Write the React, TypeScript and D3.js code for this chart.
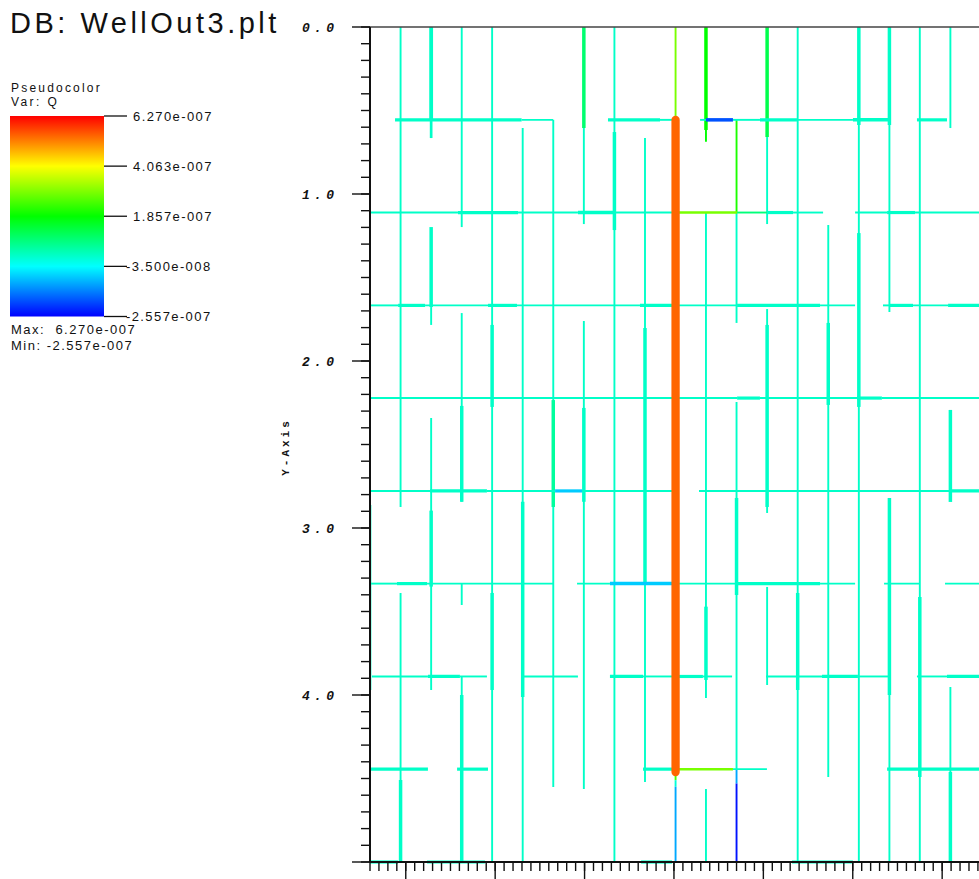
import React from 'react';
import * as d3 from 'd3';

// ---- colour table (VisIt "hot") ----
const qMin = -2.557e-7;
const qMax = 6.27e-7;
const legendValues = [6.27e-7, 4.063e-7, 1.857e-7, -3.5e-8, -2.557e-7];
const legendLabels = ['6.270e-007', '4.063e-007', '1.857e-007', '-3.500e-008', '-2.557e-007'];
const colorStops = ['#0000ff', '#00ffff', '#00ff00', '#ffff00', '#ff0000'];

// ---- axis ----
const yMajorTicks = [0, 1, 2, 3, 4, 5];
const yTickLabels = ['0.0', '1.0', '2.0', '3.0', '4.0'];

// ---- Q values (flow) ----
const QC = 1.3e-8; // background fractures
const QW = 5.39e-7; // well
const QYG = 2.9e-7;
const QG = 1.86e-7;
const QG2 = 2.1e-7;
const QG3 = 1.2e-7;
const QG4 = 9e-8;
const QG5 = 5e-8;
const QLB = -8e-8;
const QLB2 = -1.1e-7;
const QB = -1.85e-7;
const QB2 = -2.4e-7;

// vertical fractures: [x, y0, y1, aperture class, Q]
const vSegs: number[][] = [
  [0.300, 2.862, 3.970, 1.5, QC],
  [0.471, 0, 2.874, 1, QC], [0.471, 3.389, 5, 1, QC], [0.471, 4.509, 5, 2, QC],
  [0.642, 0, 0.555, 2.2, QC], [0.642, 0.555, 0.665, 1.5, QC], [0.642, 1.198, 1.677, 2, QC],
  [0.642, 1.677, 1.784, 1, QC], [0.642, 2.341, 3.970, 1, QC], [0.642, 2.896, 3.351, 2, QC],
  [0.813, 0, 1.198, 1, QC], [0.813, 1.713, 2.843, 1, QC], [0.813, 2.269, 2.843, 2, QC],
  [0.813, 3.332, 3.461, 1, QC], [0.813, 3.892, 5, 1, QC], [0.813, 4.0, 5, 2, QC],
  [0.983, 0, 5, 1, QC], [0.983, 1.784, 2.275, 2, QC], [0.983, 3.389, 3.970, 2, QC],
  [1.154, 0.605, 5, 1, QC], [1.154, 2.843, 4.012, 2, QC],
  [1.325, 0.556, 4.551, 1, QC], [1.325, 2.234, 2.874, 2, QG5],
  [1.496, 0, 0.605, 2, QG4], [1.496, 0.605, 1.180, 1, QC], [1.496, 1.760, 4.563, 1, QC], [1.496, 2.281, 2.843, 2, QC],
  [1.667, 0, 5, 1, QC], [1.667, 0.629, 1.216, 2, QC],
  [1.838, 0.665, 4.521, 1, QC], [1.838, 1.802, 3.332, 2, QC],
  [2.009, 0, 0.557, 1, QYG], [2.009, 4.461, 4.51, 1, 2.5e-7], [2.009, 4.51, 4.55, 1, 0], [2.009, 4.55, 5, 1, QLB2],
  [2.179, 0, 0.617, 2, QG], [2.179, 0.617, 0.687, 1, QG], [2.179, 1.111, 4.018, 1, QC],
  [2.179, 3.471, 3.910, 2, QC], [2.179, 4.563, 5, 1, QC],
  [2.350, 0.556, 1.111, 1, QG2], [2.350, 1.111, 1.772, 1, QC], [2.350, 2.246, 4.449, 1, QC],
  [2.350, 2.820, 3.401, 2, QC], [2.350, 4.449, 4.53, 1, QLB2], [2.350, 4.53, 5, 1, QB2],
  [2.521, 0, 0.659, 2, QG3], [2.521, 0.659, 1.180, 1, QC], [2.521, 1.689, 2.910, 1, QC],
  [2.521, 1.784, 2.874, 2, QC], [2.521, 3.353, 3.940, 1, QC],
  [2.692, 0, 5, 1, QC], [2.692, 3.389, 3.970, 2, QC],
  [2.863, 1.186, 4.491, 1, QC], [2.863, 1.772, 2.263, 2, QC],
  [3.034, 0, 5, 1, QC], [3.034, 0, 0.587, 2, QC], [3.034, 1.234, 2.275, 2, QC],
  [3.205, 0, 1.707, 1, QC], [3.205, 0, 0.587, 2, QC], [3.205, 2.820, 5, 1, QC], [3.205, 2.820, 4.0, 2, QC],
  [3.375, 0, 5, 1, QC], [3.375, 3.413, 4.491, 2, QC],
  [3.546, 0, 0.605, 1, QC], [3.546, 2.293, 2.844, 2, QC], [3.546, 3.952, 5, 1, QC], [3.546, 4.461, 5, 2, QC],
];

// the well
const wellSegs: number[][] = [[2.009, 0.557, 4.461, 5, QW]];

// horizontal fractures: [y, x0, x1, aperture class, Q]
const hSegs: number[][] = [
  // y = 0.556
  [0.556, 0.440, 1.148, 1.8, QC], [0.556, 1.148, 1.324, 1, QC], [0.556, 1.631, 1.922, 1.8, QC],
  [0.556, 1.922, 1.989, 1, QC], [0.556, 2.146, 2.179, 1, QC], [0.556, 2.179, 2.330, 2, QB],
  [0.556, 2.330, 2.481, 1, QC], [0.556, 2.481, 2.688, 1.8, QC], [0.556, 2.688, 3.001, 1, QC],
  [0.556, 3.001, 3.208, 2, QC], [0.556, 3.359, 3.527, 1.8, QC],
  // y = 1.111
  [1.111, 0.300, 0.792, 1, QC], [1.111, 0.792, 1.128, 1.8, QC], [1.111, 1.128, 1.463, 1, QC],
  [1.111, 1.463, 1.670, 2, QC], [1.111, 1.670, 1.989, 1, QC], [1.111, 2.028, 2.353, 1.4, QYG],
  [1.111, 2.353, 2.520, 1, 8e-8], [1.111, 2.520, 2.666, 1.8, QC], [1.111, 2.666, 2.834, 1, QC],
  [1.111, 3.013, 3.192, 1, QC], [1.111, 3.192, 3.348, 1.8, QC], [1.111, 3.348, 3.8, 1, QC],
  // y = 1.667
  [1.667, 0.300, 0.457, 1, QC], [1.667, 0.457, 0.608, 1.8, QC], [1.667, 0.608, 0.960, 1, QC],
  [1.667, 0.960, 1.122, 1.8, QC], [1.667, 1.122, 1.810, 1, QC], [1.667, 1.810, 1.989, 1.8, QC],
  [1.667, 2.028, 2.353, 1, QC], [1.667, 2.353, 2.817, 1.8, QC], [1.667, 2.817, 3.013, 1, QC],
  [1.667, 3.169, 3.208, 1, QC], [1.667, 3.208, 3.337, 1.8, QC], [1.667, 3.337, 3.533, 1, QC],
  [1.667, 3.533, 3.8, 1.8, QC],
  // y = 2.222
  [2.222, 0.300, 1.989, 1, QC], [2.222, 2.028, 2.353, 1, QC], [2.222, 2.353, 2.481, 1.8, QC],
  [2.222, 2.481, 3.024, 1, QC], [2.222, 3.024, 3.163, 1.8, QC], [2.222, 3.163, 3.8, 1, QC],
  // y = 2.778
  [2.778, 0.300, 0.636, 1, QC], [2.778, 0.636, 0.954, 1.8, QC], [2.778, 0.954, 1.335, 1, QC],
  [2.778, 1.335, 1.486, 1.8, QLB], [2.778, 1.486, 1.989, 1, QC], [2.778, 2.140, 3.544, 1, QC],
  [2.778, 3.544, 3.8, 1.8, QC],
  // y = 3.333
  [3.333, 0.300, 0.451, 1, QC], [3.333, 0.451, 0.619, 1.8, QC], [3.333, 0.619, 1.324, 1, QC],
  [3.333, 1.458, 1.642, 1, QC], [3.333, 1.642, 1.989, 2, QLB], [3.333, 2.028, 2.353, 1, QC],
  [3.333, 2.353, 2.817, 1.8, QC], [3.333, 2.817, 3.013, 1, QC], [3.333, 3.175, 3.376, 1, QC],
  [3.333, 3.516, 3.8, 1, QC],
  // y = 3.889
  [3.889, 0.311, 0.624, 1, QC], [3.889, 0.624, 0.803, 1.8, QC], [3.889, 0.803, 0.954, 1, QC],
  [3.889, 1.156, 1.463, 1, QC], [3.889, 1.642, 1.827, 1.8, QC], [3.889, 1.827, 1.989, 1, QC],
  [3.889, 2.028, 2.162, 1.8, QC], [3.889, 2.162, 2.325, 1, QC], [3.889, 2.515, 2.828, 1, QC],
  [3.889, 2.828, 3.029, 1.8, QC], [3.889, 3.029, 3.197, 1, QC], [3.889, 3.359, 3.527, 1, QC],
  [3.889, 3.527, 3.8, 1.8, QC],
  // y = 4.444
  [4.444, 0.300, 0.624, 1.8, QC], [4.444, 0.787, 0.960, 1.8, QC], [4.444, 1.827, 1.989, 1.8, QC],
  [4.444, 2.028, 2.330, 1.4, QYG], [4.444, 2.330, 2.520, 1, QC], [4.444, 3.192, 3.8, 1.8, QC],
  // y = 5.0
  [5.0, 0.300, 0.457, 1.8, QC], [5.0, 0.619, 0.943, 1.8, QC], [5.0, 1.816, 1.989, 1.8, QC],
  [5.0, 2.028, 2.330, 1, QC], [5.0, 2.660, 3.001, 1.8, QC], [5.0, 3.197, 3.8, 1, QC],
];

export default function App() {
  const W = 979;
  const H = 879;
  const pxPerUnitX = 178.8;
  const x0 = 370;
  const xDomainMax = 0.3 + (1010 - x0) / pxPerUnitX;
  const x = d3.scaleLinear().domain([0.3, xDomainMax]).range([x0, 1010]);
  const y = d3.scaleLinear().domain([0, 5]).range([27, 862]);

  const span = qMax - qMin;
  const color = d3
    .scaleLinear<string>()
    .domain([qMin, qMin + 0.25 * span, qMin + 0.5 * span, qMin + 0.75 * span, qMax])
    .range(colorStops)
    .interpolate(d3.interpolateRgb)
    .clamp(true);
  const sw = d3.scaleLinear().domain([1, 2]).range([1.9, 3.5]);

  const yLeg = d3.scaleLinear().domain([qMin, qMax]).range([316.5, 116]);

  const yMinor = d3.range(0, 5.0001, 0.1);
  const xMinor = d3.range(0.3, xDomainMax, 0.05);
  const xMajor = d3.range(0.5, xDomainMax, 0.5);

  const allV = [...vSegs].sort((a, b) => a[3] - b[3]);
  const allH = [...hSegs].sort((a, b) => a[3] - b[3]);

  const sansFont = '"Liberation Sans", Arial, sans-serif';
  const monoFont = '"Liberation Mono", "DejaVu Sans Mono", monospace';

  return (
    <svg
      width={W}
      height={H}
      style={{ position: 'absolute', left: 0, top: 0, background: '#fff', display: 'block' }}
    >
      <defs>
        <linearGradient id="qbar" x1="0" y1="1" x2="0" y2="0">
          {colorStops.map((c, i) => (
            <stop key={i} offset={`${(i / (colorStops.length - 1)) * 100}%`} stopColor={c} />
          ))}
        </linearGradient>
        <clipPath id="plotClip">
          <rect x={x0} y={y(0)} width={W - x0 + 20} height={y(5) - y(0) + 4} />
        </clipPath>
      </defs>
      <rect x={0} y={0} width={W} height={H} fill="#fff" />

      {/* title */}
      <text x={10} y={33} fontFamily={sansFont} fontSize={29} letterSpacing={3.5} fill="#111">
        DB: WellOut3.plt
      </text>

      {/* legend */}
      <text x={11} y={92} fontFamily={sansFont} fontSize={12} letterSpacing={2.2} fill="#111">
        Pseudocolor
      </text>
      <text x={11} y={106} fontFamily={sansFont} fontSize={12} letterSpacing={2.4} fill="#111">
        Var: Q
      </text>
      <rect x={10} y={yLeg(qMax)} width={94} height={yLeg(qMin) - yLeg(qMax)} fill="url(#qbar)" />
      {legendValues.map((v, i) => (
        <g key={i}>
          <line x1={104} x2={127} y1={yLeg(v)} y2={yLeg(v)} stroke="#111" strokeWidth={1.3} />
          <text
            x={v < 0 ? 126 : 133}
            y={yLeg(v) + 4.5}
            fontFamily={sansFont}
            fontSize={13}
            letterSpacing={1.4}
            fill="#111"
          >
            {legendLabels[i]}
          </text>
        </g>
      ))}
      <text x={11} y={334} fontFamily={sansFont} fontSize={13} letterSpacing={1.5} fill="#111" style={{ whiteSpace: 'pre' }}>
        {`Max:  ${legendLabels[0]}`}
      </text>
      <text x={11} y={350} fontFamily={sansFont} fontSize={13} letterSpacing={1.5} fill="#111" style={{ whiteSpace: 'pre' }}>
        {`Min: ${legendLabels[4]}`}
      </text>

      {/* fractures */}
      <g clipPath="url(#plotClip)">
        {allV.map((s, i) => (
          <line
            key={`v${i}`}
            x1={x(s[0])}
            x2={x(s[0])}
            y1={y(s[1])}
            y2={y(s[2])}
            stroke={color(s[4])}
            strokeWidth={sw(s[3])}
          />
        ))}
        {allH.map((s, i) => (
          <line
            key={`h${i}`}
            x1={x(s[1])}
            x2={x(s[2])}
            y1={y(s[0])}
            y2={y(s[0])}
            stroke={color(s[4])}
            strokeWidth={sw(s[3])}
          />
        ))}
        {wellSegs.map((s, i) => (
          <line
            key={`w${i}`}
            x1={x(s[0])}
            x2={x(s[0])}
            y1={y(s[1])}
            y2={y(s[2])}
            stroke={color(s[4])}
            strokeWidth={sw(s[3])}
            strokeLinecap="round"
          />
        ))}
      </g>

      {/* axes frame */}
      <line x1={x0} x2={W} y1={y(0)} y2={y(0)} stroke="#444" strokeWidth={1.6} />
      <line x1={x0} x2={x0} y1={y(0)} y2={y(5)} stroke="#111" strokeWidth={2} />
      <line x1={x0} x2={W} y1={y(5)} y2={y(5)} stroke="#111" strokeWidth={2} />

      {/* y ticks */}
      {yMinor.map((t, i) => (
        <line key={`ym${i}`} x1={x0 - 9} x2={x0} y1={y(t)} y2={y(t)} stroke="#111" strokeWidth={1.4} />
      ))}
      {yMajorTicks.map((t) => (
        <line key={`yM${t}`} x1={x0 - 18} x2={x0} y1={y(t)} y2={y(t)} stroke="#111" strokeWidth={1.4} />
      ))}
      {yTickLabels.map((lab, i) => (
        <text
          key={`yl${i}`}
          x={302}
          y={y(yMajorTicks[i]) + 5}
          fontFamily={monoFont}
          fontSize={13}
          fontWeight="bold"
          fontStyle="italic"
          letterSpacing={4.3}
          fill="#111"
        >
          {lab}
        </text>
      ))}
      <text
        transform={`translate(289, 447) rotate(-90)`}
        textAnchor="middle"
        fontFamily={monoFont}
        fontSize={11}
        fontWeight="bold"
        letterSpacing={3}
        fill="#111"
      >
        Y-Axis
      </text>

      {/* x ticks */}
      {xMinor.map((t, i) => (
        <line key={`xm${i}`} x1={x(t)} x2={x(t)} y1={y(5)} y2={y(5) + 9} stroke="#111" strokeWidth={1.4} />
      ))}
      {xMajor.map((t, i) => (
        <line key={`xM${i}`} x1={x(t)} x2={x(t)} y1={y(5)} y2={y(5) + 20} stroke="#111" strokeWidth={1.4} />
      ))}
    </svg>
  );
}
